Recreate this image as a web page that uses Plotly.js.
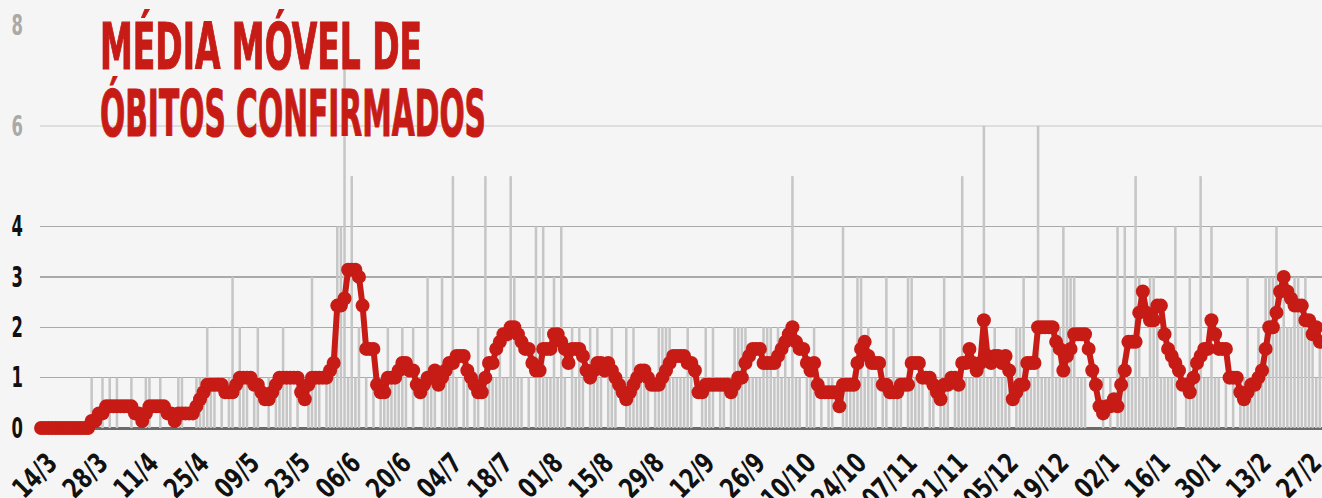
<!DOCTYPE html>
<html>
<head>
<meta charset="utf-8">
<script src="https://cdn.plot.ly/plotly-3.0.1.min.js"></script>
<style>
html,body{margin:0;padding:0;background:#f5f5f5;}
#chart{width:1322px;height:498px;}
</style>
</head>
<body>
<div id="chart"></div>
<script>
// ---- data ----
const firstDay = '2020-03-14';
const dailyDeaths = [
  0,0,0,0,0,0,0,0,0,0,0,0,0,0,
  1,0,0,1,0,1,0,1,0,0,0,1,0,0,
  0,1,1,0,0,1,0,0,0,0,1,1,0,0,
  0,1,1,1,2,1,1,0,1,0,1,3,0,2,
  1,1,0,1,2,0,0,1,0,1,1,2,1,1,
  0,1,0,0,1,3,1,1,0,1,1,1,4,4,
  8,1,5,1,2,0,1,0,1,0,1,1,2,1,
  1,1,2,1,0,2,0,0,1,3,1,1,0,3,
  1,1,5,1,0,1,1,0,1,2,0,5,1,1,
  1,2,1,1,5,3,1,1,0,1,0,4,2,4,
  1,1,3,1,4,1,0,2,1,2,1,0,2,1,
  2,1,0,1,2,1,0,0,2,1,2,1,1,1,
  1,0,1,2,2,2,2,1,1,1,1,2,1,0,
  0,1,2,1,2,0,1,1,0,1,2,2,2,2,
  1,1,1,1,2,2,2,1,2,1,2,1,5,1,
  1,0,1,1,2,0,1,0,1,1,0,0,4,1,
  1,1,3,3,1,2,1,1,0,1,3,0,2,1,
  1,0,3,3,1,1,1,0,1,1,0,2,3,1,
  0,1,1,5,1,1,1,1,1,6,1,1,2,1,
  1,1,1,0,2,2,3,1,1,1,6,1,1,1,
  2,1,2,4,3,3,3,1,1,1,0,0,0,0,
  1,0,1,0,4,1,4,1,1,5,3,1,1,3,
  3,2,1,1,1,1,4,0,0,1,3,1,1,5,
  1,1,4,1,1,0,1,0,1,0,1,1,3,1,
  1,2,1,3,3,3,4,2,3,2,2,3,3,2,
  3,2,2,1,2
];
const movingAverage = [
  0,0,0,0,0,0,0,0,0,0,0,0,0,0,
  0.14,0.14,0.29,0.29,0.43,0.43,0.43,0.43,0.43,0.43,0.43,0.43,0.29,0.29,
  0.14,0.29,0.43,0.43,0.43,0.43,0.43,0.29,0.29,0.14,0.29,0.29,0.29,0.29,
  0.29,0.43,0.57,0.71,0.86,0.86,0.86,0.86,0.86,0.71,0.71,0.71,0.86,1.0,
  1.0,1.0,1.0,0.86,0.86,0.71,0.57,0.57,0.71,0.86,1.0,1.0,1.0,1.0,
  1.0,1.0,0.71,0.57,0.86,1.0,1.0,1.0,1.0,1.0,1.14,1.29,2.43,2.43,
  2.57,3.14,3.14,3.14,3.0,2.43,1.57,1.57,1.57,0.86,0.71,0.71,1.0,1.0,
  1.0,1.14,1.29,1.29,1.14,1.14,0.86,0.71,0.86,1.0,1.0,1.14,0.86,1.0,
  1.14,1.29,1.29,1.43,1.43,1.43,1.14,1.0,0.86,0.71,0.71,1.0,1.29,1.29,
  1.57,1.71,1.86,1.86,2.0,2.0,1.86,1.71,1.57,1.57,1.29,1.14,1.14,1.57,
  1.57,1.57,1.86,1.86,1.71,1.57,1.29,1.57,1.57,1.57,1.43,1.14,1.0,1.14,
  1.29,1.29,1.14,1.29,1.14,1.0,0.86,0.71,0.57,0.71,0.86,1.0,1.14,1.14,
  1.0,0.86,0.86,0.86,1.0,1.14,1.29,1.43,1.43,1.43,1.43,1.29,1.29,1.14,
  0.71,0.71,0.86,0.86,0.86,0.86,0.86,0.86,0.86,0.71,0.86,1.0,1.0,1.29,
  1.43,1.57,1.57,1.57,1.29,1.29,1.29,1.29,1.43,1.57,1.71,1.86,2.0,1.71,
  1.57,1.57,1.29,1.14,1.29,0.86,0.71,0.71,0.71,0.71,0.71,0.43,0.86,0.86,
  0.86,0.86,1.29,1.57,1.71,1.43,1.29,1.29,1.29,0.86,0.86,0.71,0.71,0.71,
  0.86,0.86,0.86,1.29,1.29,1.29,1.0,1.0,1.0,0.86,0.71,0.57,0.86,0.86,
  1.0,1.0,0.86,1.29,1.29,1.57,1.29,1.14,1.29,2.14,1.43,1.29,1.43,1.43,
  1.29,1.43,1.14,0.57,0.71,0.86,0.86,1.29,1.29,1.29,2.0,2.0,2.0,2.0,
  2.0,1.71,1.57,1.14,1.43,1.57,1.86,1.86,1.86,1.86,1.57,1.14,0.86,0.43,
  0.29,0.43,0.43,0.57,0.43,0.86,1.14,1.71,1.71,1.71,2.29,2.71,2.29,2.14,
  2.14,2.43,2.43,1.86,1.57,1.43,1.29,1.14,0.86,0.86,0.71,1.0,1.29,1.43,
  1.57,1.57,2.14,1.86,1.57,1.57,1.57,1.0,1.0,1.0,0.71,0.57,0.71,0.86,
  0.86,1.0,1.14,1.57,2.0,2.0,2.29,2.71,3.0,2.71,2.57,2.43,2.43,2.43,
  2.14,2.14,1.86,2.0,1.71
];
const tickLabels = ['14/3','28/3','11/4','25/4','09/5','23/5','06/6','20/6','04/7','18/7','01/8','15/8','29/8',
  '12/9','26/9','10/10','24/10','07/11','21/11','05/12','19/12','02/1','16/1','30/1','13/2','27/2'];
const yMainTicks = [0,1,2,3,4];
const yUpperTicks = [6,8];
const titleLines = ['MÉDIA MÓVEL DE', 'ÓBITOS CONFIRMADOS'];

// ---- helpers ----
const t0 = Date.parse(firstDay + 'T00:00:00Z');
function dayStr(n){
  return new Date(t0 + n*86400000).toISOString().slice(0,19).replace('T',' ');
}
const dates = dailyDeaths.map((_, i) => dayStr(i).slice(0,10));
const tickVals = tickLabels.map((_, k) => dates[k*14]);

const RED = '#c71b15';
const FONT = 'DejaVu Sans Condensed, DejaVu Sans, sans-serif';

const traces = [
  {
    type: 'bar', x: dates, y: dailyDeaths,
    marker: {color: '#c6c6c6'}, hoverinfo: 'skip', xaxis: 'x', yaxis: 'y'
  },
  {
    type: 'scatter', mode: 'lines+markers', x: dates, y: movingAverage,
    line: {color: RED, width: 6}, marker: {color: RED, size: 14},
    cliponaxis: false, xaxis: 'x', yaxis: 'y2'
  }
];

const tickFont = {family: FONT, size: 28, color: '#111', weight: 700};
const layout = {
  width: 1322, height: 498,
  paper_bgcolor: '#f5f5f5', plot_bgcolor: '#f5f5f5',
  margin: {l: 40, r: 0, t: 25, b: 70},
  showlegend: false,
  bargap: 0.3,
  xaxis: {
    type: 'date', range: [dayStr(-0.3), dayStr(354.6)],
    showgrid: false, zeroline: false, showline: false, ticks: '',
    tickmode: 'array', tickvals: tickVals, ticktext: tickLabels,
    tickangle: -45, ticklabelshift: 8, ticklabelstandoff: 12, ticklabeloverflow: 'allow',
    tickfont: tickFont
  },
  yaxis: {
    range: [0, 8], tickmode: 'array', tickvals: yMainTicks,
    ticktext: yMainTicks.map(String),
    showgrid: true, gridcolor: '#aaaaaa', gridwidth: 1.5,
    zeroline: true, zerolinecolor: '#6b6b6b', zerolinewidth: 3,
    ticks: '', ticklabelstandoff: 16,
    tickfont: tickFont
  },
  yaxis2: {
    overlaying: 'y', side: 'left', range: [0, 8],
    tickmode: 'array', tickvals: yUpperTicks, ticktext: yUpperTicks.map(String),
    showgrid: true, gridcolor: '#dedede', gridwidth: 2,
    zeroline: false, ticks: '', ticklabelstandoff: 16,
    tickfont: {family: FONT, size: 28, color: '#a9a9a9', weight: 700}
  },
  annotations: [
    {text: titleLines[0], xref: 'paper', yref: 'paper', x: 0.0455, y: 1.045,
     xanchor: 'left', yanchor: 'top', showarrow: false,
     font: {family: FONT, size: 64, color: RED, weight: 700}},
    {text: titleLines[1], xref: 'paper', yref: 'paper', x: 0.0455, y: 0.878,
     xanchor: 'left', yanchor: 'top', showarrow: false,
     font: {family: FONT, size: 64, color: RED, weight: 700}}
  ]
};

const titleWidths = [322, 386];
const xTickSqueeze = 0.8;
const yTickSqueeze = 0.65;
Plotly.newPlot('chart', traces, layout, {displayModeBar: false, staticPlot: true}).then(gd => {
  gd.querySelectorAll('.annotation-text').forEach((el, i) => {
    const bb = el.getBBox();
    el.setAttribute('text-anchor', 'start');
    el.setAttribute('x', bb.x);
    el.setAttribute('textLength', titleWidths[i]);
    el.setAttribute('lengthAdjust', 'spacingAndGlyphs');
    el.style.stroke = RED;
    el.style.strokeWidth = '1.2px';
  });
  const squeeze = (sel, k) => gd.querySelectorAll(sel).forEach(el => {
    const len = el.getComputedTextLength();
    el.setAttribute('textLength', len * k);
    el.setAttribute('lengthAdjust', 'spacingAndGlyphs');
  });
  squeeze('.xtick text', xTickSqueeze);
  squeeze('.ytick text, .y2tick text', yTickSqueeze);
});
</script>
</body>
</html>
